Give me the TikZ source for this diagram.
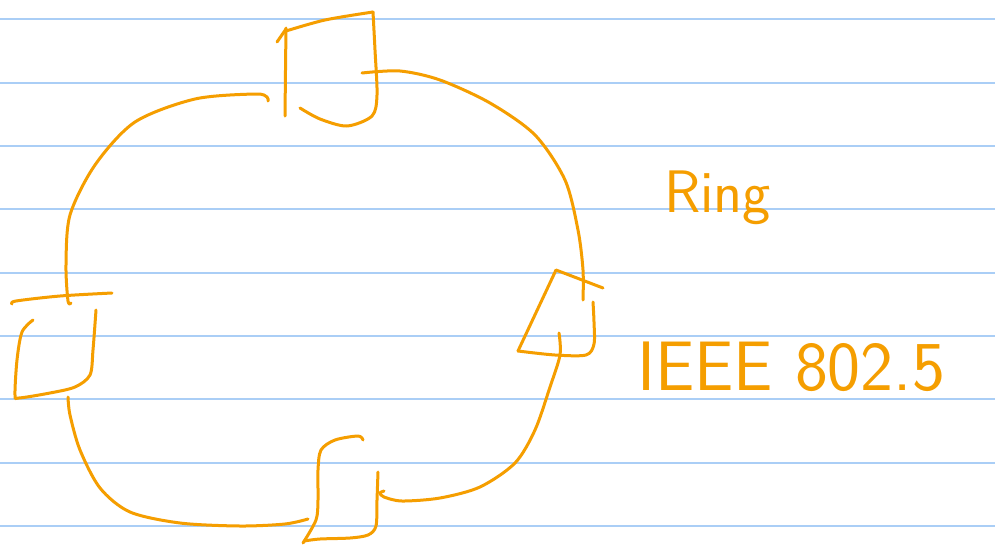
\documentclass[tikz,border=0pt]{standalone}
\definecolor{inkc}{RGB}{245,158,0}
\definecolor{linec}{RGB}{170,206,246}
\tikzset{
  ink/.style={draw=inkc, line width=3pt, line cap=round, line join=round},
  paper/.style={draw=linec, line width=2pt},
  handtext/.style={text=inkc, inner sep=0pt, anchor=base west, font=\sffamily}
}
\begin{document}
\begin{tikzpicture}[x=1pt,y=-1pt]
\useasboundingbox (0,0) rectangle (995,546);
\fill[white] (0,0) rectangle (995,546);
% ruled paper
\foreach \yy in {19.3,82.7,146,209.3,272.7,336,399.3,462.7,526}
  \draw[paper] (0,\yy) -- (995,\yy);
% top node box
\draw[ink] plot[smooth] coordinates {(285,116) (285.5,70) (286,28)};
\draw[ink] (277,42) -- (286,29);
\draw[ink] plot[smooth] coordinates {(286,31) (325,20) (373,12)};
\draw[ink] plot[smooth] coordinates {(373,12) (375,50) (377,95) (372,116) (347,126) (320,119) (300,108)};
% top-right arc
\draw[ink] plot[smooth] coordinates {(362,73) (400,71) (440,80) (490,103) (535,135) (565,180) (578,230) (583,270) (583,300)};
% right node box
\draw[ink] (603,288) -- (556,270) -- (518,351);
\draw[ink] plot[smooth] coordinates {(518,351) (555,355) (586,355) (594,344) (594,322) (593,302)};
% bottom-right arc
\draw[ink] plot[smooth] coordinates {(559,333) (560,355) (550,387) (535,430) (515,463) (480,487) (440,498) (402,501) (384,497) (380,493) (384,491)};
% bottom node box
\draw[ink] plot[smooth] coordinates {(363,440) (358,436) (335,440) (321,450) (318,470) (318,500) (316,520) (303,543)};
\draw[ink] plot[smooth] coordinates {(304,541) (320,539) (350,538) (368,535) (376,526) (377,500) (378,472)};
% bottom-left arc
\draw[ink] plot[smooth] coordinates {(308,519) (285,524) (240,526) (180,523) (130,512) (100,488) (80,450) (70,415) (68,397)};
% left node box
\draw[ink] plot[smooth] coordinates {(12,304) (16,301) (60,296) (112,293)};
\draw[ink] plot[smooth] coordinates {(33,320) (22,332) (17,360) (15,395) (19,398) (50,393) (75,387) (90,375) (93,350) (96,310)};
% top-left arc
\draw[ink] plot[smooth] coordinates {(71,303) (68,301) (66,265) (70,215) (95,165) (135,122) (195,99) (255,94) (267,97) (268,101)};
% labels
\node[handtext, font=\sffamily\fontsize{60}{60}\selectfont] (ring) at (664,212) {Ring};
\node[handtext, font=\sffamily\fontsize{70}{70}\selectfont] (ieee) at (637,390) {IEEE 802.5};
\end{tikzpicture}
\end{document}
